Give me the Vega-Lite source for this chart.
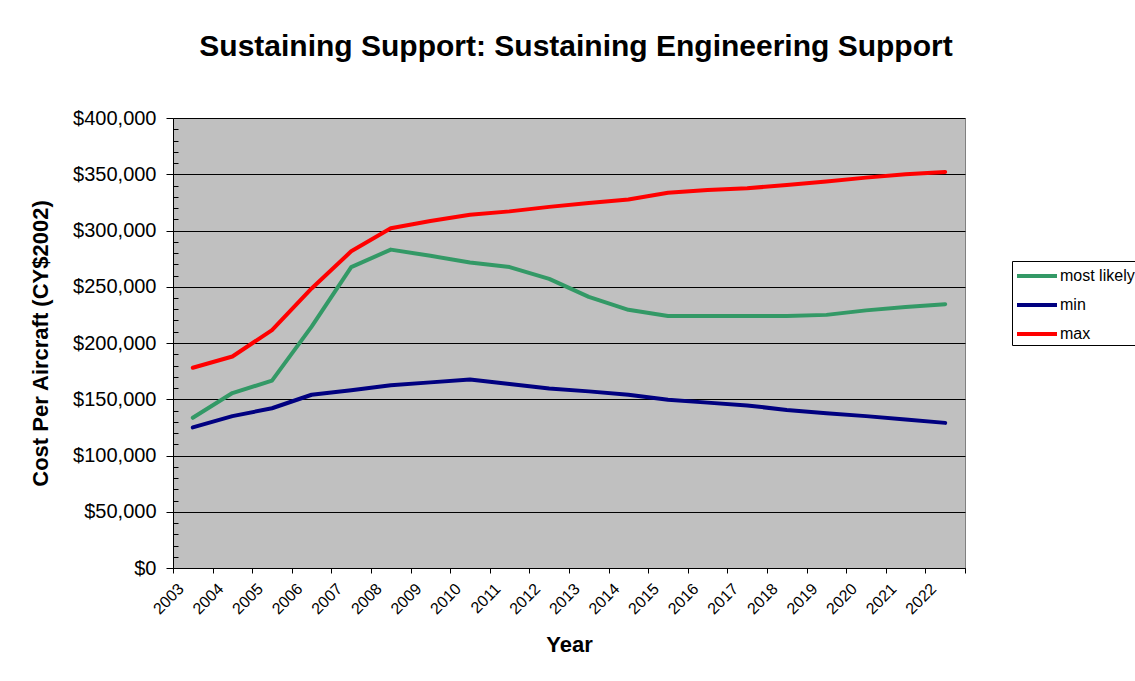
{
  "$schema": "https://vega.github.io/schema/vega-lite/v6.json",
  "width": 792,
  "height": 450,
  "autosize": {"type": "none"},
  "padding": {"left": 173, "top": 118, "right": 170, "bottom": 113},
  "background": "white",
  "title": {
    "text": "Sustaining Support: Sustaining Engineering Support",
    "font": "Liberation Sans",
    "fontSize": 30,
    "fontWeight": "bold",
    "color": "black",
    "anchor": "middle",
    "offset": 46,
    "dx": 7
  },
  "data": {
    "values": [
      {"year": "2003", "series": "most likely", "value": 133500},
      {"year": "2004", "series": "most likely", "value": 155500},
      {"year": "2005", "series": "most likely", "value": 166500},
      {"year": "2006", "series": "most likely", "value": 214500},
      {"year": "2007", "series": "most likely", "value": 267500},
      {"year": "2008", "series": "most likely", "value": 283000},
      {"year": "2009", "series": "most likely", "value": 277500},
      {"year": "2010", "series": "most likely", "value": 271500},
      {"year": "2011", "series": "most likely", "value": 267500},
      {"year": "2012", "series": "most likely", "value": 257000},
      {"year": "2013", "series": "most likely", "value": 241000},
      {"year": "2014", "series": "most likely", "value": 229500},
      {"year": "2015", "series": "most likely", "value": 224000},
      {"year": "2016", "series": "most likely", "value": 224000},
      {"year": "2017", "series": "most likely", "value": 224000},
      {"year": "2018", "series": "most likely", "value": 224000},
      {"year": "2019", "series": "most likely", "value": 225000},
      {"year": "2020", "series": "most likely", "value": 229000},
      {"year": "2021", "series": "most likely", "value": 232000},
      {"year": "2022", "series": "most likely", "value": 234500},
      {"year": "2003", "series": "min", "value": 125000},
      {"year": "2004", "series": "min", "value": 135000},
      {"year": "2005", "series": "min", "value": 142000},
      {"year": "2006", "series": "min", "value": 154000},
      {"year": "2007", "series": "min", "value": 158000},
      {"year": "2008", "series": "min", "value": 162500},
      {"year": "2009", "series": "min", "value": 165000},
      {"year": "2010", "series": "min", "value": 167500},
      {"year": "2011", "series": "min", "value": 163500},
      {"year": "2012", "series": "min", "value": 159500},
      {"year": "2013", "series": "min", "value": 157000},
      {"year": "2014", "series": "min", "value": 154000},
      {"year": "2015", "series": "min", "value": 149500},
      {"year": "2016", "series": "min", "value": 147000},
      {"year": "2017", "series": "min", "value": 144500},
      {"year": "2018", "series": "min", "value": 140500},
      {"year": "2019", "series": "min", "value": 137500},
      {"year": "2020", "series": "min", "value": 135000},
      {"year": "2021", "series": "min", "value": 132000},
      {"year": "2022", "series": "min", "value": 129000},
      {"year": "2003", "series": "max", "value": 178000},
      {"year": "2004", "series": "max", "value": 188000},
      {"year": "2005", "series": "max", "value": 211500},
      {"year": "2006", "series": "max", "value": 248500},
      {"year": "2007", "series": "max", "value": 281500},
      {"year": "2008", "series": "max", "value": 302000},
      {"year": "2009", "series": "max", "value": 308500},
      {"year": "2010", "series": "max", "value": 314000},
      {"year": "2011", "series": "max", "value": 317000},
      {"year": "2012", "series": "max", "value": 321000},
      {"year": "2013", "series": "max", "value": 324500},
      {"year": "2014", "series": "max", "value": 327500},
      {"year": "2015", "series": "max", "value": 333500},
      {"year": "2016", "series": "max", "value": 336000},
      {"year": "2017", "series": "max", "value": 337500},
      {"year": "2018", "series": "max", "value": 340500},
      {"year": "2019", "series": "max", "value": 343500},
      {"year": "2020", "series": "max", "value": 347000},
      {"year": "2021", "series": "max", "value": 350000},
      {"year": "2022", "series": "max", "value": 352000}
    ]
  },
  "mark": {"type": "line", "strokeWidth": 4, "strokeCap": "round", "strokeJoin": "round"},
  "encoding": {
    "x": {
      "field": "year",
      "type": "ordinal",
      "bandPosition": 0.5,
      "scale": {"type": "band", "paddingInner": 0, "paddingOuter": 0},
      "axis": {
        "title": "Year",
        "titleFont": "Liberation Sans",
        "titleFontSize": 22,
        "titleFontWeight": "bold",
        "titleColor": "black",
        "titlePadding": 18,
        "labelAngle": -45,
        "labelAlign": "right",
        "labelBaseline": "middle",
        "labelFont": "Liberation Sans",
        "labelFontSize": 16,
        "labelColor": "black",
        "labelOffset": -12,
        "labelPadding": 13,
        "tickBand": "extent",
        "tickSize": 5,
        "tickColor": "black",
        "domainColor": "black",
        "grid": false
      }
    },
    "y": {
      "field": "value",
      "type": "quantitative",
      "scale": {"domain": [0, 400000], "nice": false},
      "axis": {
        "values": [0, 10000, 20000, 30000, 40000, 50000, 60000, 70000, 80000, 90000, 100000, 110000, 120000, 130000, 140000, 150000, 160000, 170000, 180000, 190000, 200000, 210000, 220000, 230000, 240000, 250000, 260000, 270000, 280000, 290000, 300000, 310000, 320000, 330000, 340000, 350000, 360000, 370000, 380000, 390000, 400000],
        "labelExpr": "datum.value % 50000 === 0 ? '$' + format(datum.value, ',') : ''",
        "labelOverlap": false,
        "labelFlush": false,
        "grid": true,
        "gridColor": "black",
        "gridWidth": 1,
        "gridOpacity": {"condition": {"test": "datum.value % 50000 === 0", "value": 1}, "value": 0},
        "tickSize": {"condition": {"test": "datum.value % 50000 === 0", "value": 7}, "value": -5},
        "tickColor": "black",
        "domainColor": "black",
        "labelFont": "Liberation Sans",
        "labelFontSize": 20,
        "labelColor": "black",
        "labelPadding": 10,
        "title": "Cost Per Aircraft (CY$2002)",
        "titleFont": "Liberation Sans",
        "titleFontSize": 22,
        "titleFontWeight": "bold",
        "titleColor": "black",
        "titlePadding": 20
      }
    },
    "color": {
      "field": "series",
      "type": "nominal",
      "sort": ["most likely", "min", "max"],
      "scale": {"domain": ["most likely", "min", "max"], "range": ["#339966", "#000080", "#ff0000"]},
      "legend": {
        "orient": "none",
        "legendX": 839,
        "legendY": 143,
        "title": null,
        "strokeColor": "black",
        "fillColor": "white",
        "padding": 3,
        "symbolType": "M-2,0H2",
        "symbolSize": 400,
        "symbolStrokeWidth": 4,
        "symbolOffset": 10,
        "labelOffset": 11,
        "rowPadding": 9,
        "labelFont": "Liberation Sans",
        "labelFontSize": 16,
        "labelColor": "black"
      }
    }
  },
  "config": {
    "view": {"fill": "#c0c0c0", "stroke": "#808080", "strokeWidth": 1}
  }
}
